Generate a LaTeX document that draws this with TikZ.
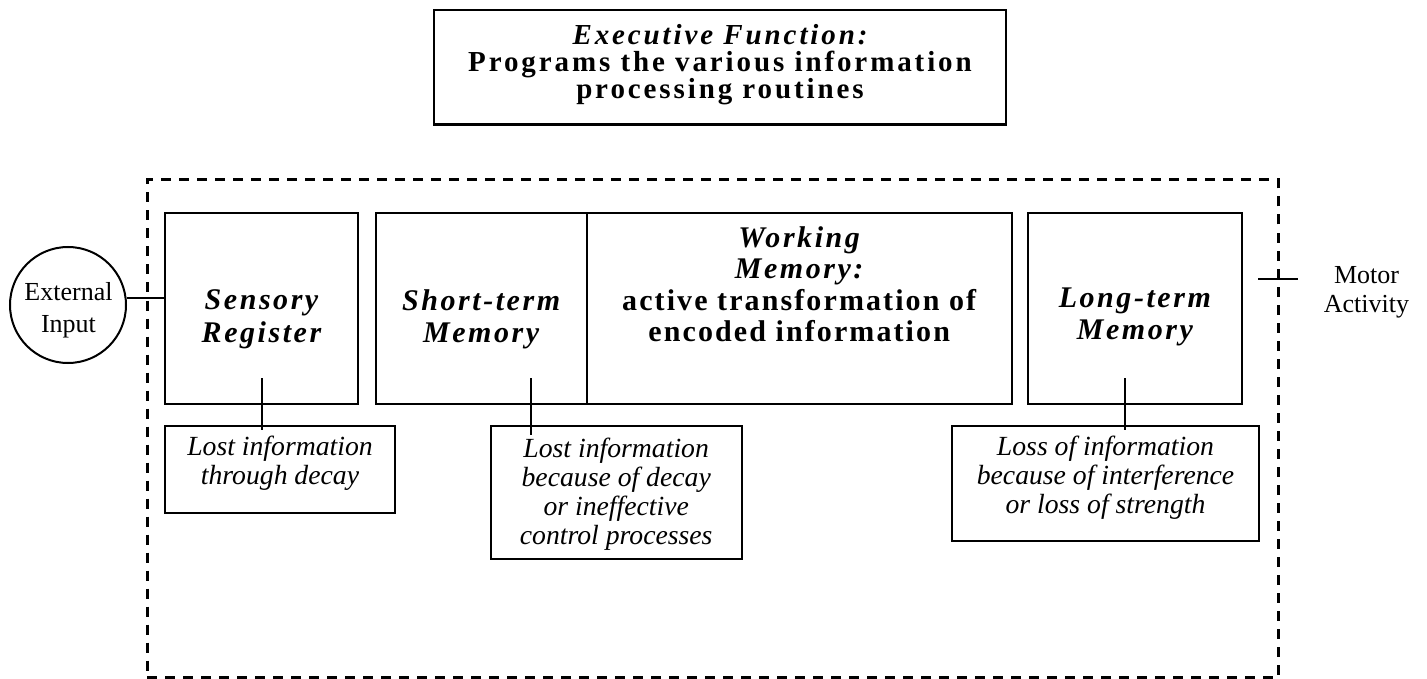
\documentclass[tikz,border=0pt]{standalone}
\usepackage{fontspec}
\setmainfont{Liberation Serif}
\newfontfamily\bigls[LetterSpace=8.5]{Liberation Serif}
\newfontfamily\midls[LetterSpace=7]{Liberation Serif}
\newfontfamily\topls[LetterSpace=10]{Liberation Serif}
\begin{document}
\begin{tikzpicture}[x=1pt,y=-1pt,
  box/.style={draw, line width=2.1pt, inner sep=0pt},
  lbl/.style={inner sep=0pt, align=center, anchor=north},
  link/.style={line width=1.7pt},
  dashedframe/.style={draw, line width=3pt, dash pattern=on 10pt off 8pt, inner sep=0pt},
  heading/.style={lbl, font={\fontsize{30}{33}\selectfont\bigls\bfseries\itshape}},
  losttext/.style={lbl, font={\fontsize{27.7}{29}\selectfont\itshape}},
  plaintext/.style={lbl, font={\fontsize{26}{31.7}\selectfont}}
]
\useasboundingbox (0,0) rectangle (1427,679);

% executive function box
\node[box, minimum width=572, minimum height=114.5] (exec) at (720,67.25) {};
\node[lbl, font={\fontsize{29}{26.5}\selectfont\topls\bfseries}] (exectext) at (720,24.5)
  {{\itshape Executive Function:}\\Programs the various information\\processing routines};

% dashed processing frame
\node[dashedframe, minimum width=1131, minimum height=497.5] (frame) at (712.5,428.75) {};

% memory stores
\node[box, minimum width=193, minimum height=191.3] (sr) at (261.5,308.35) {};
\node[box, minimum width=211, minimum height=191.3] (stm) at (481.2,308.35) {};
\node[box, minimum width=425, minimum height=191.3] (wm) at (799.2,308.35) {};
\node[box, minimum width=213.7, minimum height=191.3] (ltm) at (1134.85,308.35) {};

\node[heading] (srtext) at (261.5,289.7) {Sensory\\Register};
\node[heading, font={\fontsize{30}{31.7}\selectfont\bigls\bfseries\itshape}] (stmtext) at (481.2,289.3) {Short-term\\Memory};
\node[lbl, font={\fontsize{30}{31.5}\selectfont\bfseries}] (wmtext) at (799.2,226.3)
  {{\bigls\itshape Working}\\{\bigls\itshape Memory:}\\{\midls active transformation of}\\{\midls encoded information}};
\node[heading, font={\fontsize{30}{32}\selectfont\bigls\bfseries\itshape}] (ltmtext) at (1134.85,288) {Long-term\\Memory};

% loss boxes
\node[box, minimum width=230, minimum height=87.3] (lost1) at (280,469.35) {};
\node[box, minimum width=251, minimum height=133.6] (lost2) at (616.2,492.5) {};
\node[box, minimum width=307, minimum height=115] (lost3) at (1105.5,483.2) {};

\node[losttext] (lost1text) at (280,436) {Lost information\\through decay};
\node[losttext] (lost2text) at (616.2,437.6) {Lost information\\because of decay\\or ineffective\\control processes};
\node[losttext] (lost3text) at (1105.5,436) {Loss of information\\because of interference\\or loss of strength};

% external input
\node[draw, circle, line width=2pt, minimum size=116, inner sep=0pt] (ext) at (68,305) {};
\node[plaintext] (exttext) at (68.5,282.2) {External\\Input};

% motor activity
\node[plaintext, font={\fontsize{26}{29.5}\selectfont}] (motor) at (1366.5,265.8) {Motor\\Activity};

% connectors
\coordinate (c1a) at (261.7,378);
\coordinate (c1b) at (261.7,430);
\coordinate (c2a) at (530.7,378);
\coordinate (c2b) at (530.7,435);
\coordinate (c3a) at (1125,378);
\coordinate (c3b) at (1125,430);
\coordinate (m1) at (1258,279);
\coordinate (m2) at (1298,279);

\draw[link] (c1a) -- (c1b);
\draw[link] (c2a) -- (c2b);
\draw[link] (c3a) -- (c3b);
\draw[link] (ext.7) -- (ext.7 -| sr.west);
\draw[link] (m1) -- (m2);
\end{tikzpicture}
\end{document}
